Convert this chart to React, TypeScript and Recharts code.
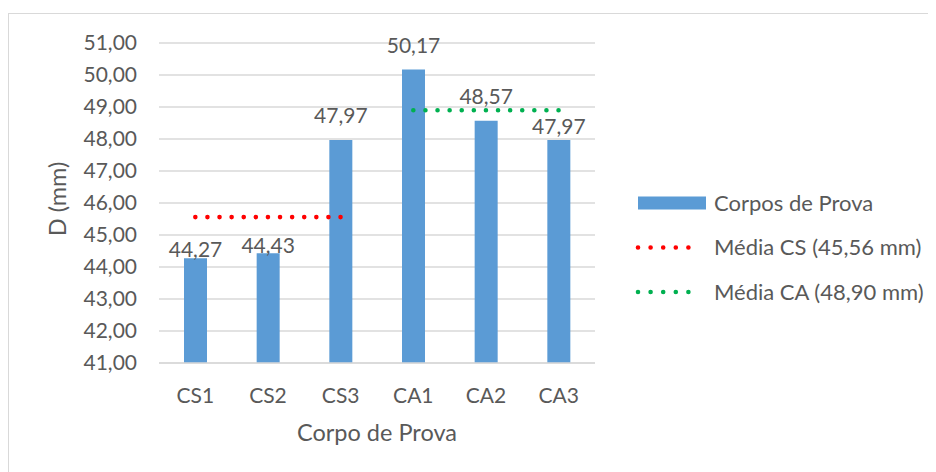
import React from 'react';
import {
  ComposedChart,
  Bar,
  Line,
  XAxis,
  YAxis,
  CartesianGrid,
  Legend,
  LabelList,
} from 'recharts';

// Specimen labels and measured spread diameters (mm)
const categorias = ['CS1', 'CS2', 'CS3', 'CA1', 'CA2', 'CA3'];
const diametros = [44.27, 44.43, 47.97, 50.17, 48.57, 47.97];

// Group averages (mm)
const mediaCS = 45.56;
const mediaCA = 48.9;

// Y axis ticks
const yTicks = [41, 42, 43, 44, 45, 46, 47, 48, 49, 50, 51];

// Vertical gap (px) between each bar top and its value label
const labelGap = [1.6, 0.6, 17, 17, 17, 6];

// Legend order by series key
const legendOrder = ['d', 'cs', 'ca'];

const fmt = (v: number) => v.toFixed(2).replace('.', ',');

const data = categorias.map((c, i) => ({
  cat: c,
  d: diametros[i],
  cs: c.startsWith('CS') ? mediaCS : null,
  ca: c.startsWith('CA') ? mediaCA : null,
}));

const FONT = 'Lato, "Open Sans", sans-serif';
const FS = 21;
const FS_TITLE = 23.5;
const FS_LEGEND = 22;
const TXT = '#595959';
const GRID = '#D9D9D9';
const BLUE = '#5B9BD5';
const RED = '#FF0000';
const GREEN = '#00B050';

const BarValueLabel = (props: any) => {
  const { x, y, width, value, index } = props;
  return (
    <text
      x={Number(x) + Number(width) / 2}
      y={Number(y) - labelGap[index]}
      textAnchor="middle"
      fill={TXT}
      fontSize={FS}
      fontFamily={FONT}
    >
      {fmt(Number(value))}
    </text>
  );
};

const LegendBox = (props: any) => {
  const payload = [...(props.payload || [])].sort(
    (a: any, b: any) => legendOrder.indexOf(a.dataKey) - legendOrder.indexOf(b.dataKey)
  );
  return (
    <svg width={300} height={120} style={{ display: 'block', overflow: 'visible' }}>
      {payload.map((p: any, i: number) => {
        const cy = 15 + i * 44.5;
        return (
          <g key={i}>
            {p.type === 'rect' ? (
              <rect x={10} y={cy - 6.5} width={68} height={13} fill={p.color} />
            ) : (
              <line
                x1={10}
                x2={73}
                y1={cy}
                y2={cy}
                stroke={p.color}
                strokeWidth={4.6}
                strokeLinecap="round"
                strokeDasharray="0 12.6"
              />
            )}
            <text x={86} y={cy} dy="0.36em" fill={TXT} fontSize={FS_LEGEND} fontFamily={FONT}>
              {p.value}
            </text>
          </g>
        );
      })}
    </svg>
  );
};

export default function App() {
  return (
    <div style={{ position: 'relative', width: 928, height: 464, overflow: 'hidden', background: '#fff' }}>
      <div
        style={{
          position: 'absolute',
          left: 0,
          top: 5,
          width: 960,
          height: 500,
          border: `1px solid ${GRID}`,
          boxSizing: 'border-box',
        }}
      />
      <div style={{ position: 'absolute', left: 0, top: 0 }}>
        <ComposedChart
          width={928}
          height={464}
          data={data}
          margin={{ top: 35, right: 341, bottom: 0, left: 0 }}
          style={{ fontFamily: FONT }}
        >
          <CartesianGrid horizontal vertical={false} stroke={GRID} strokeWidth={1.3} />
          <XAxis
            dataKey="cat"
            height={109}
            tickLine={false}
            axisLine={{ stroke: GRID, strokeWidth: 1.3 }}
            tickMargin={19}
            tick={{ fill: TXT, fontSize: FS, fontFamily: FONT }}
            label={{
              value: 'Corpo de Prova',
              position: 'insideBottom',
              offset: 31,
              fill: TXT,
              fontSize: FS_TITLE,
              fontFamily: FONT,
            }}
          />
          <YAxis
            width={151}
            domain={[41, 51]}
            ticks={yTicks}
            interval={0}
            allowDataOverflow
            axisLine={false}
            tickLine={false}
            tickMargin={16}
            tickFormatter={(v: number) => fmt(v)}
            tick={{ fill: TXT, fontSize: FS, fontFamily: FONT }}
            label={{
              value: 'D (mm)',
              angle: -90,
              position: 'center',
              dx: -26,
              dy: -4,
              fill: TXT,
              fontSize: FS_TITLE,
              fontFamily: FONT,
            }}
          />
          <Bar dataKey="d" name="Corpos de Prova" fill={BLUE} barSize={23} isAnimationActive={false}>
            <LabelList dataKey="d" content={BarValueLabel} />
          </Bar>
          <Line
            dataKey="cs"
            name={`Média CS (${fmt(mediaCS)} mm)`}
            stroke={RED}
            strokeWidth={4.6}
            strokeLinecap="round"
            strokeDasharray="0 12.1"
            dot={false}
            activeDot={false}
            legendType="line"
            isAnimationActive={false}
          />
          <Line
            dataKey="ca"
            name={`Média CA (${fmt(mediaCA)} mm)`}
            stroke={GREEN}
            strokeWidth={4.6}
            strokeLinecap="round"
            strokeDasharray="0 12.1"
            dot={false}
            activeDot={false}
            legendType="line"
            isAnimationActive={false}
          />
          <Legend
            layout="horizontal"
            align="center"
            verticalAlign="middle"
            content={LegendBox}
            wrapperStyle={{ position: 'absolute', left: 620, top: 180, width: 300, height: 120 }}
          />
        </ComposedChart>
      </div>
    </div>
  );
}
